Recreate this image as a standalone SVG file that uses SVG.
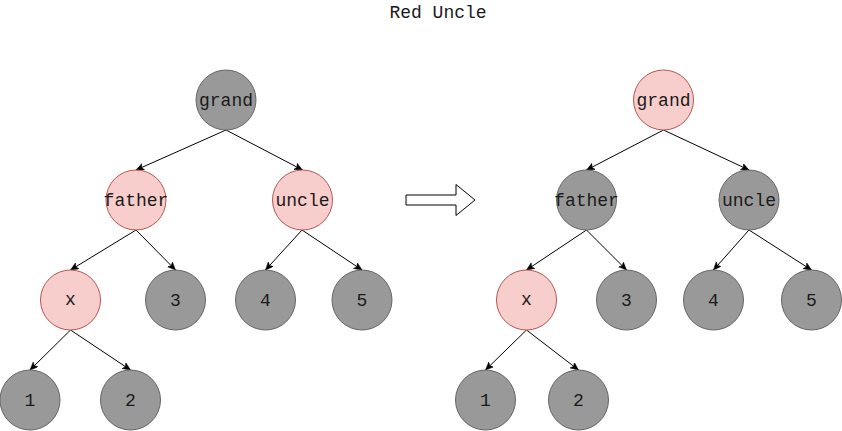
<svg xmlns="http://www.w3.org/2000/svg" width="842" height="431" viewBox="0 0 842 431">
<defs>
<marker id="arr" markerWidth="10" markerHeight="8" refX="8" refY="3.5" orient="auto" markerUnits="userSpaceOnUse">
<path d="M0,0 L8,3.5 L0,7 L2,3.5 Z" fill="#000" stroke="#000" stroke-width="0.5"/>
</marker>
</defs>
<style>
.g{fill:#999999;stroke:#666666;stroke-width:1}
.r{fill:#f8cecc;stroke:#b85450;stroke-width:1}
text{font-family:"Liberation Mono","Courier New",monospace;font-size:18px;fill:#1a1a1a;text-anchor:middle}
.e line{stroke:#000;stroke-width:1;marker-end:url(#arr)}
</style>
<rect width="842" height="431" fill="#ffffff"/>
<text id="title" x="438" y="18">Red Uncle</text>
<g id="edges" class="e">
<line x1="226" y1="130" x2="136" y2="170"/>
<line x1="226" y1="130" x2="302.5" y2="170"/>
<line x1="136" y1="230" x2="70.5" y2="270"/>
<line x1="136" y1="230" x2="175.5" y2="270"/>
<line x1="302" y1="230" x2="265.5" y2="270"/>
<line x1="302" y1="230" x2="362" y2="270"/>
<line x1="70.5" y1="330" x2="30" y2="370"/>
<line x1="70.5" y1="330" x2="130.5" y2="370"/>
<line x1="663.5" y1="130" x2="586.5" y2="170"/>
<line x1="663.5" y1="130" x2="749" y2="170"/>
<line x1="586.5" y1="230" x2="526.5" y2="270"/>
<line x1="586.5" y1="230" x2="626.5" y2="270"/>
<line x1="749" y1="230" x2="713.5" y2="270"/>
<line x1="749" y1="230" x2="811.5" y2="270"/>
<line x1="526.5" y1="330" x2="485.5" y2="370"/>
<line x1="526.5" y1="330" x2="578.5" y2="370"/>
</g>
<g id="bigArrow"><polygon points="406,195 456,195 456,184.5 475,200 456,215.5 456,205 406,205" fill="#fff" stroke="#000" stroke-width="1"/></g>
<g id="L_grand"><circle class="g" cx="226" cy="100" r="30"/><text x="226" y="106">grand</text></g>
<g id="L_father"><circle class="r" cx="136" cy="200" r="30"/><text x="136" y="206">father</text></g>
<g id="L_uncle"><circle class="r" cx="302.5" cy="200" r="30"/><text x="302.5" y="206">uncle</text></g>
<g id="L_x"><circle class="r" cx="70.5" cy="300" r="30"/><text x="70.5" y="305">x</text></g>
<g id="L_3"><circle class="g" cx="175.5" cy="300" r="30"/><text x="175.5" y="306">3</text></g>
<g id="L_4"><circle class="g" cx="265.5" cy="300" r="30"/><text x="265.5" y="306">4</text></g>
<g id="L_5"><circle class="g" cx="362" cy="300" r="30"/><text x="362" y="306">5</text></g>
<g id="L_1"><circle class="g" cx="30" cy="400" r="30"/><text x="30" y="406">1</text></g>
<g id="L_2"><circle class="g" cx="130.5" cy="400" r="30"/><text x="130.5" y="406">2</text></g>
<g id="R_grand"><circle class="r" cx="663.5" cy="100" r="30"/><text x="663.5" y="106">grand</text></g>
<g id="R_father"><circle class="g" cx="586.5" cy="200" r="30"/><text x="586.5" y="206">father</text></g>
<g id="R_uncle"><circle class="g" cx="749" cy="200" r="30"/><text x="749" y="206">uncle</text></g>
<g id="R_x"><circle class="r" cx="526.5" cy="300" r="30"/><text x="526.5" y="305">x</text></g>
<g id="R_3"><circle class="g" cx="626.5" cy="300" r="30"/><text x="626.5" y="306">3</text></g>
<g id="R_4"><circle class="g" cx="713.5" cy="300" r="30"/><text x="713.5" y="306">4</text></g>
<g id="R_5"><circle class="g" cx="811.5" cy="300" r="30"/><text x="811.5" y="306">5</text></g>
<g id="R_1"><circle class="g" cx="485.5" cy="400" r="30"/><text x="485.5" y="406">1</text></g>
<g id="R_2"><circle class="g" cx="578.5" cy="400" r="30"/><text x="578.5" y="406">2</text></g>
</svg>
